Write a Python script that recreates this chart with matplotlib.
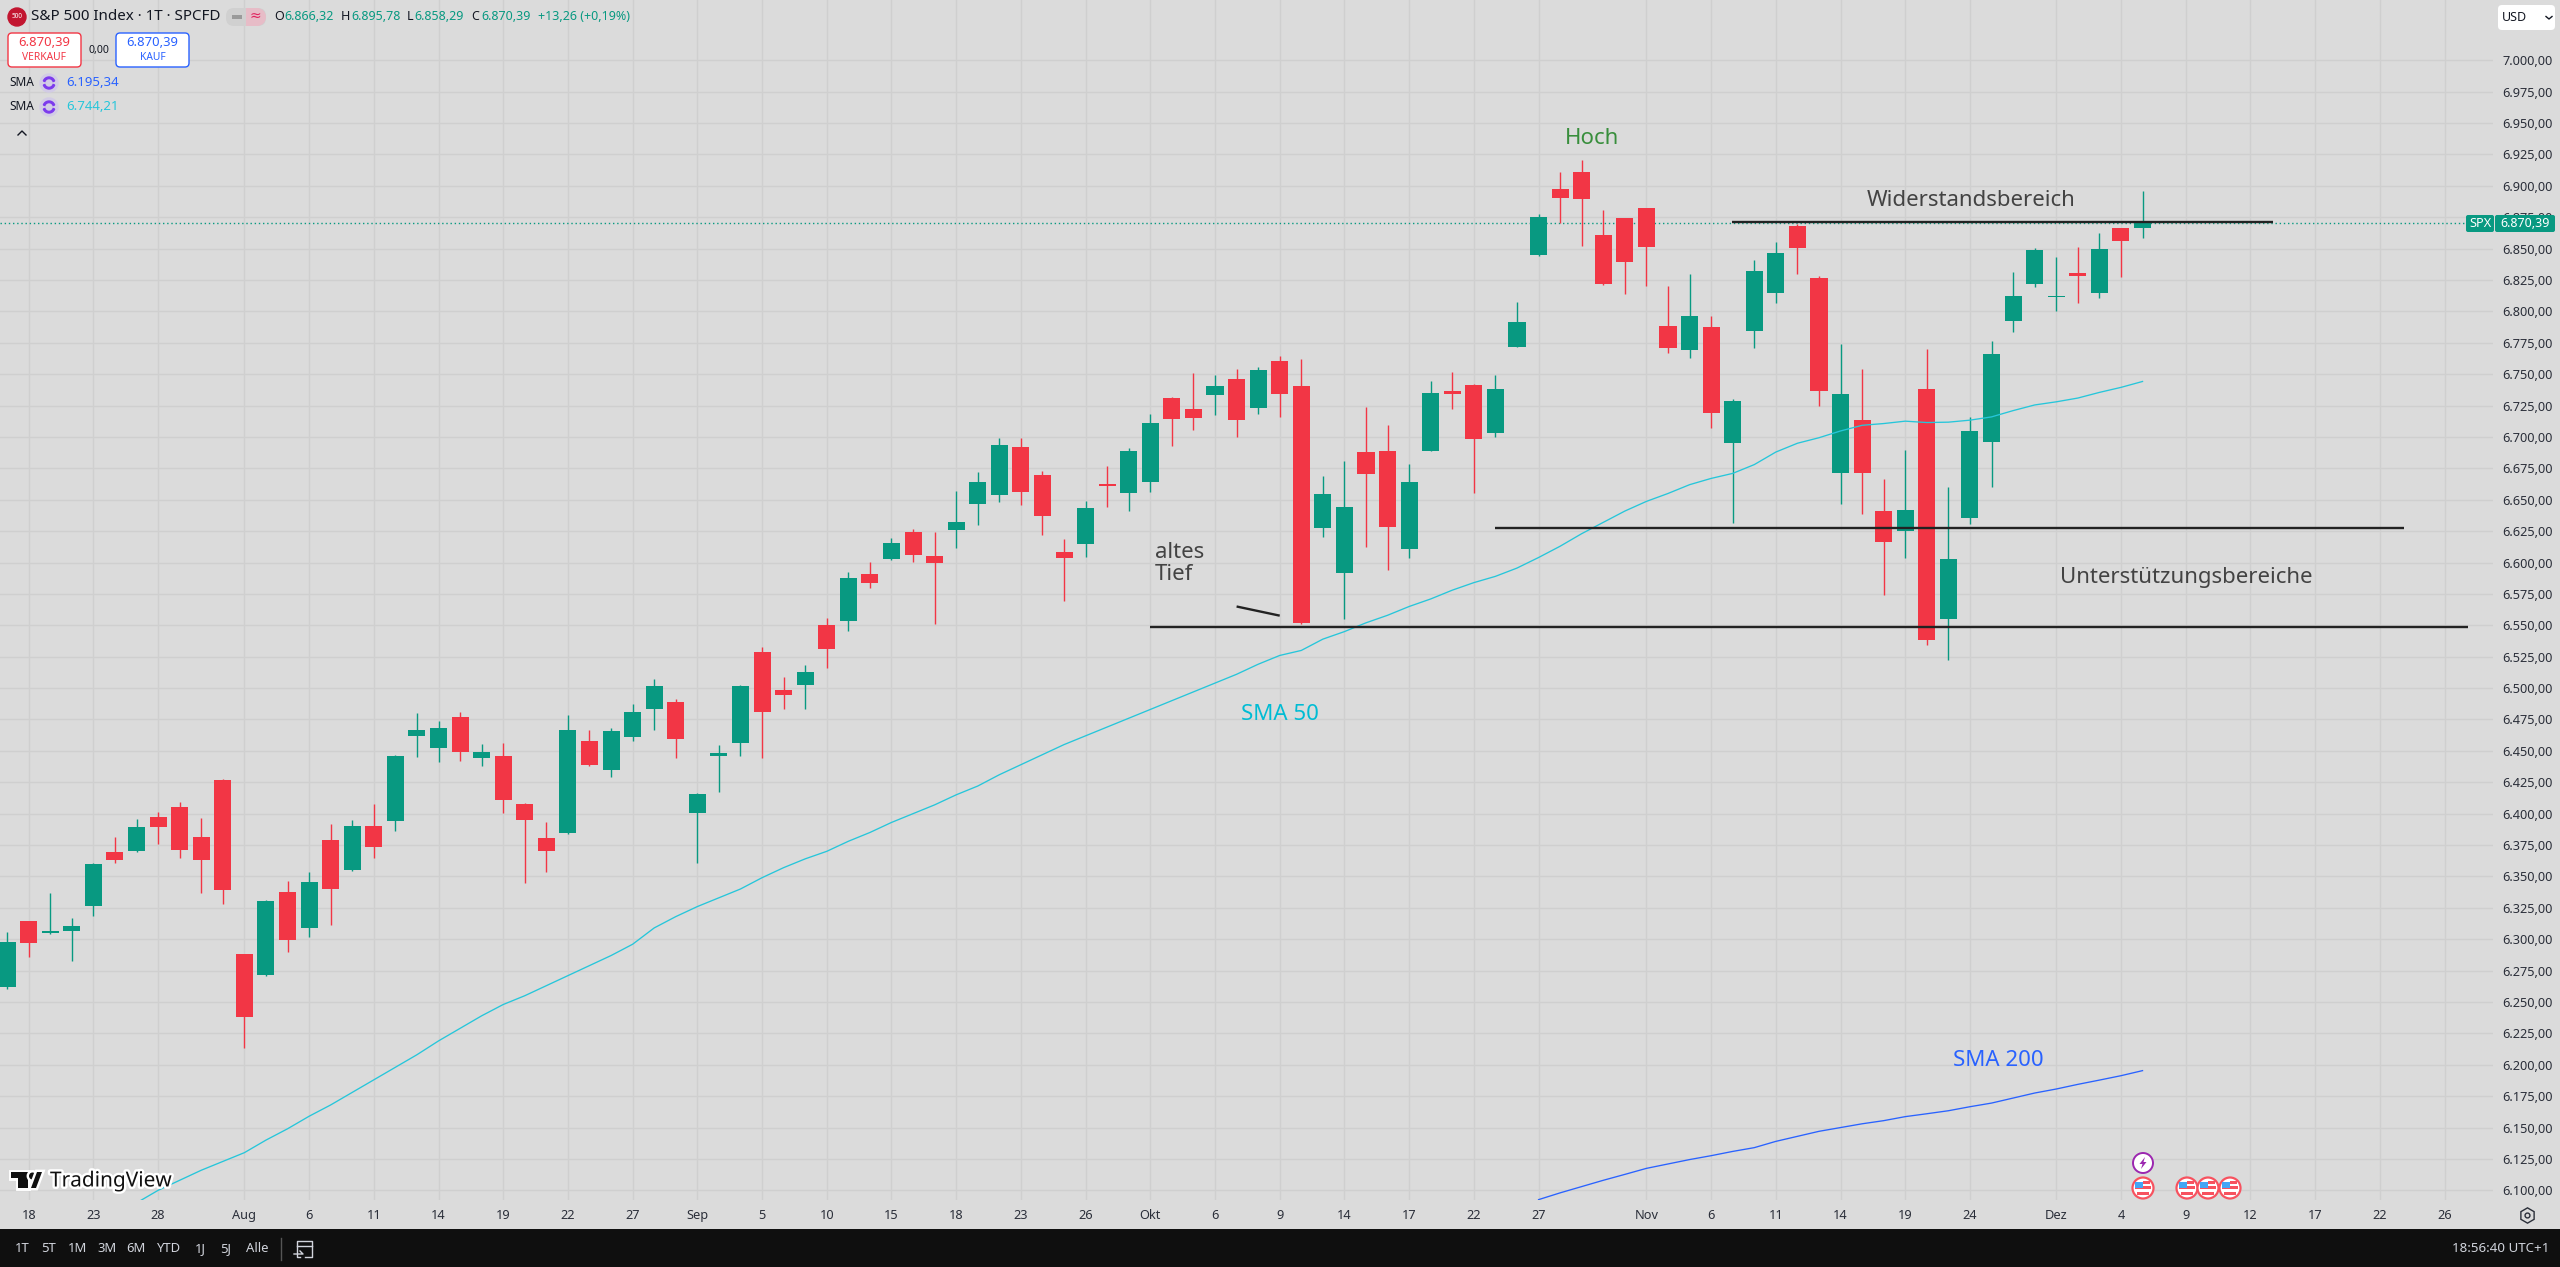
import matplotlib
matplotlib.use("Agg")
import numpy as np
import matplotlib.pyplot as plt
from matplotlib.patches import Circle, FancyBboxPatch, Polygon, Rectangle, Wedge
from matplotlib.ticker import FixedLocator, FuncFormatter
import matplotlib.patheffects as pe

W, H = 2560, 1267

# daily candles (oldest first)
opens = [6262, 6314.2, 6304.7, 6306.3, 6326.2, 6369.1, 6369.9, 6397.7, 6405.7, 6381.8,
         6427.1, 6288, 6271.3, 6337.3, 6308.7, 6379.4, 6354.8, 6389.8, 6394.5, 6462.1,
         6452.6, 6477.2, 6444.6, 6446.2, 6407.3, 6381, 6384.2, 6458.1, 6435.1, 6461.3,
         6483.6, 6489.1, 6400.9, 6445.6, 6455.9, 6529.1, 6498.1, 6502.8, 6550.6, 6553.8,
         6591.1, 6603.1, 6624.6, 6605.5, 6626.2, 6646.8, 6654, 6692.2, 6669.9, 6608.6,
         6615, 6662, 6655.6, 6664.3, 6731.2, 6722.4, 6733.6, 6746.3, 6723.2, 6760.6,
         6740.7, 6627.7, 6591.9, 6688.2, 6689, 6611, 6689, 6736.7, 6741.5, 6703.3,
         6771.7, 6844.9, 6897.4, 6911, 6860.8, 6874.3, 6882.3, 6788.4, 6769.3, 6787.6,
         6695.3, 6784.4, 6814.7, 6868.1, 6826.7, 6671.4, 6713.6, 6641.3, 6625.4, 6738.4,
         6555.2, 6635.6, 6696.1, 6792.5, 6822.1, 6811.6, 6830.7, 6814.8, 6866.5, 6866.32]
highs = [6305.5, 6314.5, 6336.5, 6316.6, 6361.1, 6381.8, 6396.1, 6401.7, 6409.6, 6396.9,
         6427.5, 6288.3, 6330.9, 6346, 6353.2, 6391.4, 6395.3, 6407.3, 6447, 6480.4,
         6474, 6481.2, 6455.7, 6456.5, 6408.8, 6393.7, 6478.8, 6466.9, 6468.5, 6487.5,
         6507.4, 6491.5, 6416.8, 6454.3, 6502.8, 6533.1, 6509.2, 6518.7, 6556.1, 6592.7,
         6600.7, 6619.8, 6626.9, 6624.6, 6657.2, 6672.3, 6699.3, 6699.3, 6673.1, 6619,
         6649.2, 6677.1, 6691.4, 6718.4, 6732, 6751.1, 6749.5, 6754.2, 6755.8, 6764.6,
         6762.2, 6669.1, 6681, 6724, 6709.7, 6678.6, 6744.7, 6751.8, 6741.8, 6749.4,
         6807.5, 6877.5, 6911, 6920.5, 6880.7, 6874.6, 6882.6, 6820.2, 6829.8, 6796.4,
         6730.3, 6840.9, 6855.3, 6869.5, 6828.3, 6774.2, 6754.3, 6666.8, 6689.7, 6770.2,
         6660.4, 6716, 6776.6, 6831.5, 6850.6, 6843.4, 6851.4, 6862.5, 6866.8, 6895.78]
lows = [6260, 6285.6, 6303.9, 6282.4, 6318.2, 6361.1, 6369.1, 6376.2, 6364.3, 6336.5,
        6327.7, 6213.3, 6271, 6289.6, 6301.5, 6311.1, 6354.5, 6364.3, 6385.8, 6445.4,
        6441.4, 6442.2, 6438.3, 6400.9, 6344.4, 6353.2, 6384, 6438.3, 6429.5, 6458.1,
        6466.9, 6444.6, 6361.1, 6416.9, 6446.3, 6444, 6483.7, 6483.7, 6516.4, 6545.8,
        6580, 6602.3, 6600.7, 6551.4, 6611.8, 6630.1, 6648.4, 6646, 6622.2, 6569.7,
        6604.7, 6644.4, 6641.3, 6656.4, 6693, 6705.7, 6717.6, 6700.1, 6718.4, 6716.1,
        6551.4, 6620.6, 6555.3, 6612.6, 6594.3, 6603.8, 6688.7, 6722.4, 6655.6, 6700.1,
        6771.4, 6844.1, 6870.4, 6852.1, 6821, 6813.9, 6820.2, 6766.9, 6763, 6707.3,
        6631.7, 6770.9, 6806.7, 6829.9, 6725, 6646.9, 6638.8, 6574.3, 6603.9, 6534.7,
        6522.1, 6631, 6660.4, 6783.9, 6819.7, 6800.6, 6806.8, 6810.8, 6827.5, 6858.29]
closes = [6297.5, 6296.7, 6306.3, 6310.3, 6359.6, 6362.7, 6389, 6389, 6370.7, 6362.7,
          6338.9, 6237.9, 6330.1, 6299.1, 6345.2, 6339.7, 6389.8, 6373.1, 6446.2, 6466.9,
          6468.5, 6449.4, 6449.4, 6411.2, 6395.3, 6369.9, 6466.9, 6439, 6466.1, 6481.2,
          6501.9, 6459.7, 6416, 6448.7, 6502, 6481.3, 6494.9, 6513.2, 6531.5, 6588,
          6584, 6615.8, 6606.3, 6599.9, 6632.5, 6664.3, 6693.8, 6656.4, 6637.3, 6603.9,
          6643.7, 6661.2, 6689, 6711.3, 6714.5, 6715.3, 6740.7, 6713.7, 6753.4, 6734.4,
          6552.2, 6654.8, 6644.5, 6670.7, 6628.5, 6664.3, 6735.1, 6734.3, 6698.5, 6738.3,
          6791.6, 6875.1, 6890.3, 6889.5, 6821.8, 6839.3, 6851.3, 6770.9, 6796.4, 6719.2,
          6728.8, 6832.2, 6846.5, 6850.6, 6736.8, 6734.4, 6671.4, 6616.5, 6642.1, 6538.5,
          6603, 6705, 6766.1, 6812.4, 6849, 6812.4, 6828.3, 6849.8, 6856.3, 6870.39]

sma50_start = 6
sma50 = [6090, 6100, 6108, 6116, 6123, 6130, 6140, 6149, 6159, 6168, 6178, 6188, 6198, 6208,
         6219, 6229, 6239, 6248, 6255, 6263, 6271, 6279, 6287, 6296, 6309, 6318, 6326, 6333,
         6340, 6349, 6357, 6364, 6370, 6378, 6385, 6393, 6400, 6407, 6415, 6422, 6431, 6439,
         6447, 6455, 6462, 6469, 6476, 6483, 6490, 6497, 6504, 6511, 6519, 6526, 6530, 6539,
         6545, 6552, 6558, 6565, 6571, 6578, 6584, 6589, 6595.6, 6604, 6613, 6623, 6632, 6641,
         6648.7, 6655, 6662, 6667, 6671, 6678, 6688, 6695, 6699.4, 6704.8, 6709.3, 6710.7,
         6712.6, 6711.5, 6711.8, 6713.4, 6716, 6721, 6725.5, 6728, 6731, 6735.5, 6739.5, 6744.21]

sma200_start = 71
sma200 = [6092.6, 6098, 6103, 6108, 6112.7, 6117.5, 6121, 6124.5, 6127.6, 6131, 6134, 6139,
          6143, 6147, 6150, 6153, 6155.5, 6158.7, 6161, 6163.4, 6166.6, 6169.5, 6173.5,
          6177.5, 6180.7, 6184.4, 6187.8, 6191.3, 6195.34]

last_price = 6870.39

# bar index / label of the date axis
date_pos = [1, 4, 7, 11, 14, 17, 20, 23, 26, 29, 32, 35, 38, 41, 44, 47, 50, 53, 56, 59, 62, 65,
            68, 71, 76, 79, 82, 85, 88, 91, 95, 98, 101, 104, 107, 110, 113]
date_labels = ["18", "23", "28", "Aug", "6", "11", "14", "19", "22", "27", "Sep", "5", "10", "15",
               "18", "23", "26", "Okt", "6", "9", "14", "17", "22", "27", "Nov", "6", "11", "14",
               "19", "24", "Dez", "4", "9", "12", "17", "22", "26"]
months = ["Aug", "Sep", "Okt", "Nov", "Dez"]
price_ticks = list(range(6100, 7001, 25))

# drawn trend lines: bar index / price
resist_x, resist_y = [79.97, 105.05], [6871.3, 6871.3]
support1_x, support1_y = [69.0, 111.1], [6627.4, 6627.4]
support2_x, support2_y = [53.0, 114.1], [6549, 6549]
pointer_x, pointer_y = [57.0, 59.0], [6565, 6557.7]

BG = "#dbdbdb"
GRID = "#cfcfcf"
UP = "#089981"
DOWN = "#f23645"
CYAN = "#26c6da"
BLUE = "#2962ff"
DARK = "#131722"
NOTE = "#434343"
FONT = "Noto Sans"

plt.rcParams["font.family"] = [FONT, "DejaVu Sans"]

fig = plt.figure(figsize=(W / 100, H / 100), dpi=100, facecolor=BG)
ax = fig.add_axes([0, 1 - 1200 / H, 2493 / W, 1200 / H], facecolor=BG)
bar_px = 21.57
ax.set_xlim(-7.1 / bar_px, (2493 - 7.1) / bar_px)
ax.set_ylim(7000 - (1200 - 60.3) / 1.2556, 7000 + 60.3 / 1.2556)
ax.set_axisbelow(True)
for s in ax.spines.values():
    s.set_visible(False)

ax.yaxis.tick_right()
ax.yaxis.set_major_locator(FixedLocator(price_ticks))
ax.yaxis.set_major_formatter(FuncFormatter(lambda v, _: f"{v:,.2f}".replace(",", "X").replace(".", ",").replace("X", ".")))
ax.xaxis.set_major_locator(FixedLocator(date_pos))
ax.xaxis.set_major_formatter(FuncFormatter(lambda v, p: date_labels[p] if p is not None and p < len(date_labels) else ""))
ax.tick_params(axis="y", length=0, pad=7, labelsize=9.2, labelcolor="#2a2e39")
ax.tick_params(axis="x", length=0, pad=6.5, labelsize=9.2, labelcolor="#2a2e39")
for lbl, txt in zip(ax.get_xticklabels(), date_labels):
    if txt in months:
        lbl.set_fontweight("bold")
ax.grid(True, color=GRID, linewidth=1.0)

# candles
x = np.arange(len(closes))
o = np.array(opens)
c = np.array(closes)
cols = [UP if cc >= oo else DOWN for oo, cc in zip(opens, closes)]
ax.vlines(x, lows, highs, colors=cols, linewidth=1.0, zorder=3)
ax.bar(x, np.maximum(np.abs(c - o), 1.0), bottom=np.minimum(o, c), width=0.79, color=cols, linewidth=0, zorder=4)

# moving averages
ax.plot(np.arange(len(sma50)) + sma50_start, sma50, color=CYAN, linewidth=0.95, zorder=5)
ax.plot(np.arange(len(sma200)) + sma200_start, sma200, color=BLUE, linewidth=0.95, zorder=5)

# last price line
ax.axhline(last_price, color=UP, linewidth=1.0, linestyle=(0, (1, 2)), zorder=2)

# drawings
for lx, ly in [(resist_x, resist_y), (support1_x, support1_y), (support2_x, support2_y), (pointer_x, pointer_y)]:
    ax.plot(lx, ly, color="#222222", linewidth=1.7, zorder=6, solid_capstyle="butt")

# overlay in pixel coordinates for the tradingview furniture
ui = fig.add_axes([0, 0, 1, 1], facecolor="none")
ui.set_xlim(0, W)
ui.set_ylim(H, 0)
ui.axis("off")


def label(px, py, s, size=9.2, color=DARK, ha="left", weight="normal", **kw):
    return ui.text(px, py, s, fontsize=size, color=color, ha=ha, va="center", fontweight=weight, **kw)


def box(x0, y0, x1, y1, face, edge="none", lw=1.0, r=4):
    ui.add_patch(FancyBboxPatch((x0 + r, y0 + r), x1 - x0 - 2 * r, y1 - y0 - 2 * r,
                                boxstyle=f"round,pad={r},rounding_size={r}",
                                facecolor=face, edgecolor=edge, linewidth=lw, zorder=8))


# notes on the chart
label(1592, 139, "Hoch", size=16, color="#388e3c", ha="center")
label(1867, 200, "Widerstandsbereich", size=16, color=NOTE)
label(2060, 577, "Unterstützungsbereiche", size=16, color=NOTE)
label(1155, 552, "altes", size=16, color=NOTE)
label(1155, 575, "Tief", size=16, color=NOTE)
label(1241, 714, "SMA 50", size=16, color="#00bcd4")
label(1953, 1060, "SMA 200", size=16, color=BLUE)

# header
ui.add_patch(Circle((17, 17), 9, color="#c2152f", zorder=8))
label(17, 17, "500", size=4.6, color="white", ha="center", weight="bold", zorder=9)
label(31, 17, "S&P 500 Index · 1T · SPCFD", size=10.9, color=DARK)
box(226, 8, 266, 26, "#d0d0d0", r=8)
ui.add_patch(Rectangle((246, 8), 12, 18, facecolor="#e7bcc7", zorder=8.5))
ui.add_patch(Wedge((257, 17), 9, -90, 90, facecolor="#e7bcc7", zorder=8.5))
ui.add_patch(Rectangle((232, 15), 10, 3.5, facecolor="#9a9a9a", zorder=9))
label(255, 16, "≈", size=10, color="#e0245e", ha="center", zorder=9)

for px, s, col in [(274, "O", DARK), (284, "6.866,32", UP), (341, "H", DARK), (351, "6.895,78", UP),
                   (407, "L", DARK), (414, "6.858,29", UP), (471, "C", DARK), (481, "6.870,39", UP),
                   (538, "+13,26 (+0,19%)", UP)]:
    label(px, 17, s, size=9.0, color=col)

box(8, 33, 81, 67, "white", DOWN, 1.0)
label(44.5, 42.5, "6.870,39", size=9.4, color=DOWN, ha="center", zorder=9)
label(44.5, 57, "VERKAUF", size=7.4, color=DOWN, ha="center", zorder=9)
label(99, 50, "0,00", size=7.6, ha="center")
box(116, 33, 189, 67, "white", BLUE, 1.0)
label(152.5, 42.5, "6.870,39", size=9.4, color=BLUE, ha="center", zorder=9)
label(152.5, 57, "KAUF", size=7.4, color=BLUE, ha="center", zorder=9)

for py, val, col in [(83, "6.195,34", BLUE), (107, "6.744,21", CYAN)]:
    label(9, py, "SMA", size=8.6)
    ui.add_patch(Circle((49, py), 9, color="#d2cbe6", zorder=8))
    ui.add_patch(Wedge((49, py), 6, 20, 160, width=1.6, color="#7c3aed", zorder=9))
    ui.add_patch(Wedge((49, py), 6, 200, 340, width=1.6, color="#7c3aed", zorder=9))
    label(66, py, val, size=9.5, color=col)
ui.plot([18, 22, 26], [135, 131, 135], color=DARK, linewidth=1.0)

# right scale furniture
box(2498, 5, 2555, 30, "white", r=4)
label(2502, 17.5, "USD", size=9.0, zorder=9)
ui.plot([2546, 2549, 2552], [16.5, 19, 16.5], color=DARK, linewidth=1.0, zorder=9)
box(2466, 215, 2494, 232, UP, r=2)
box(2495, 215, 2555, 232, UP, r=2)
label(2480, 223.5, "SPX", size=9.2, color="white", ha="center", zorder=9)
label(2525, 223.5, "6.870,39", size=9.0, color="white", ha="center", weight="bold", zorder=9)
ui.plot([2527], [1215], marker="h", markersize=11, markerfacecolor="none", markeredgecolor="#2a2e39", markeredgewidth=1.0)
ui.plot([2527], [1215], marker="o", markersize=3.5, markerfacecolor="none", markeredgecolor="#2a2e39", markeredgewidth=1.0)

# logo
halo = [pe.withStroke(linewidth=3.5, foreground="white")]
label(50, 1181, "TradingView", size=15, color="#111111", weight="bold", path_effects=halo)
for patch in [Polygon([(11, 1172), (28, 1172), (28, 1188), (18, 1188), (18, 1178), (11, 1178)], facecolor="#111111"),
              Circle((32.5, 1176), 3.5, facecolor="#111111"),
              Polygon([(31, 1188), (37, 1172), (42, 1172), (36, 1188)], facecolor="#111111")]:
    patch.set_path_effects(halo)
    patch.set_zorder(8)
    ui.add_patch(patch)

# event markers
ui.add_patch(Circle((2143, 1163), 10, facecolor="white", edgecolor="#9c27b0", linewidth=1.4, zorder=8))
ui.add_patch(Polygon([(2145, 1157), (2139.5, 1164), (2142.5, 1164), (2141, 1169), (2146.5, 1162), (2143.5, 1162)],
                     facecolor="#9c27b0", zorder=9))
for ex in [2143, 2187, 2208, 2230]:
    ui.add_patch(Circle((ex, 1188), 10.5, facecolor="white", edgecolor="#f7525f", linewidth=1.6, zorder=8))
    ui.add_patch(Rectangle((ex - 8, 1186), 16, 3, facecolor="#f7525f", zorder=9))
    ui.add_patch(Rectangle((ex - 6, 1192), 12, 2.5, facecolor="#f7525f", zorder=9))
    ui.add_patch(Rectangle((ex - 8, 1182), 8, 6, facecolor="#42a5f5", zorder=10))
    ui.add_patch(Rectangle((ex, 1181), 7, 2.5, facecolor="#f7525f", zorder=9))

# bottom toolbar
ui.add_patch(Rectangle((0, 1229), W, H - 1229, facecolor="#0f0f0f", zorder=8))
for px, s in [(22, "1T"), (49, "5T"), (78, "1M"), (107, "3M"), (136, "6M"), (169, "YTD"),
              (200, "1J"), (226, "5J"), (257, "Alle")]:
    label(px, 1249, s, size=9.4, color="#d1d4dc", ha="center", zorder=9)
ui.plot([280.5, 280.5], [1238, 1260], color="#555555", linewidth=1.0, zorder=9)
ui.plot([300, 297, 297, 312, 312, 305], [1257, 1257, 1241, 1241, 1257, 1257], color="#d1d4dc", linewidth=1.0, zorder=9)
ui.plot([297, 312], [1246, 1246], color="#d1d4dc", linewidth=1.0, zorder=9)
ui.plot([294, 303, 300], [1254, 1254, 1251], color="#d1d4dc", linewidth=1.0, zorder=10)
label(2549, 1248, "18:56:40 UTC+1", size=9.6, color="#d1d4dc", ha="right", zorder=9)

fig.savefig("out.png", dpi=100, facecolor=BG)
